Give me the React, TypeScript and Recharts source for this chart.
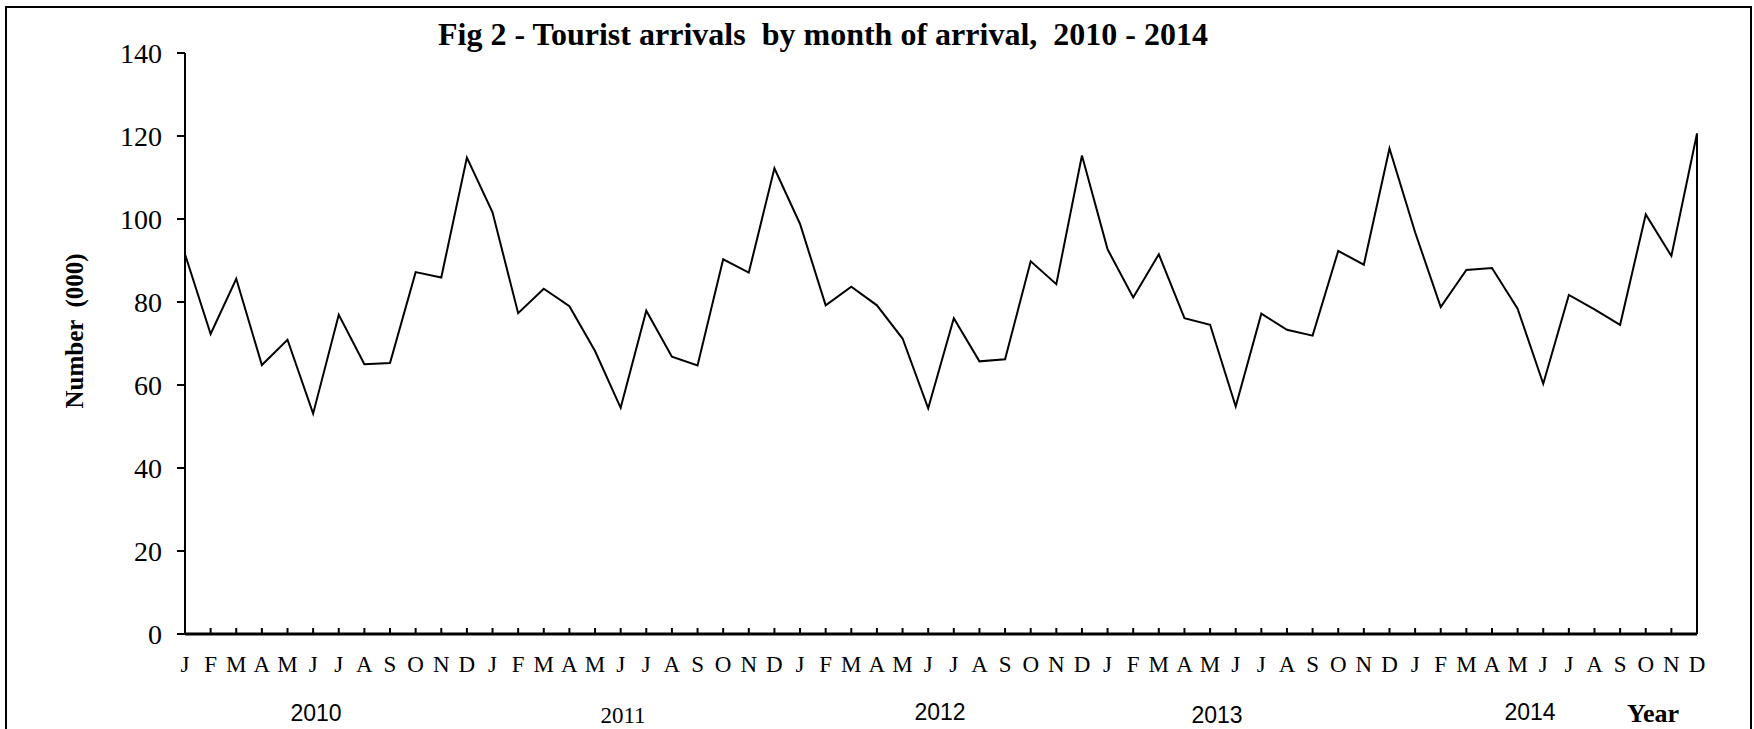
import React from 'react';
import { LineChart, Line, XAxis, YAxis, ReferenceLine } from 'recharts';

const years = ['2010', '2011', '2012', '2013', '2014'];
const months = ['J', 'F', 'M', 'A', 'M', 'J', 'J', 'A', 'S', 'O', 'N', 'D'];

// arrivals in thousands
const arrivals2010 = [91.5, 72.3, 85.6, 64.8, 70.9, 53.1, 76.9, 65.0, 65.3, 87.2, 85.9, 114.8];
const arrivals2011 = [101.6, 77.3, 83.2, 79.0, 68.2, 54.5, 77.9, 66.8, 64.7, 90.3, 87.1, 112.2];
const arrivals2012 = [98.8, 79.2, 83.7, 79.2, 71.2, 54.4, 76.1, 65.7, 66.2, 89.8, 84.3, 115.3];
const arrivals2013 = [92.7, 81.1, 91.5, 76.1, 74.5, 54.8, 77.2, 73.3, 71.9, 92.3, 89.0, 117.0];
const arrivals2014 = [96.8, 78.8, 87.7, 88.2, 78.4, 60.3, 81.7, 78.2, 74.5, 101.1, 91.1, 120.6];

const yTicks = [0, 20, 40, 60, 80, 100, 120, 140];

const byYear = [arrivals2010, arrivals2011, arrivals2012, arrivals2013, arrivals2014];

const data = byYear.flatMap((vals, yi) =>
  vals.map((v, mi) => ({ id: `${years[yi]}-${mi}`, month: months[mi], value: v }))
);
const last = data[data.length - 1];

const SERIF = '"Liberation Serif", "Times New Roman", serif';
const SANS = '"Liberation Sans", Arial, sans-serif';

const MonthTick = (props: any) => {
  const { x, y, payload } = props;
  const mi = Number(String(payload.value).split('-')[1]);
  return (
    <g>
      <line x1={x} x2={x} y1={y} y2={y - 6} stroke="#000" strokeWidth={2} />
      <text x={x} y={y + 38} textAnchor="middle" fontFamily={SERIF} fontSize={23} fill="#000">
        {months[mi]}
      </text>
    </g>
  );
};

export default function App() {
  return (
    <div style={{ position: 'absolute', left: 0, top: 0, width: 1754, height: 729, overflow: 'hidden', background: '#fff' }}>
      <div style={{ position: 'absolute', left: 5, top: 6, width: 1743, height: 800, border: '2px solid #000' }} />
      <div style={{ position: 'absolute', left: 0, top: 0 }}>
        <LineChart width={1754} height={729} data={data} margin={{ top: 53, right: 57, left: 125, bottom: 55 }}>
          <XAxis
            dataKey="id"
            interval={0}
            height={40}
            tickSize={0}
            tickMargin={0}
            tickLine={false}
            axisLine={{ stroke: '#000', strokeWidth: 3 }}
            tick={MonthTick}
          />
          <YAxis
            width={60}
            domain={[0, 140]}
            ticks={yTicks}
            interval={0}
            tickSize={8}
            tickMargin={15}
            axisLine={{ stroke: '#000', strokeWidth: 2 }}
            tickLine={{ stroke: '#000', strokeWidth: 2 }}
            tick={{ fill: '#000', fontSize: 28, fontFamily: SERIF }}
          />
          <ReferenceLine
            segment={[{ x: last.id, y: 0 }, { x: last.id, y: last.value }]}
            stroke="#000"
            strokeWidth={2}
          />
          <Line
            type="linear"
            dataKey="value"
            stroke="#000"
            strokeWidth={2}
            dot={false}
            isAnimationActive={false}
          />
        </LineChart>
      </div>
      <svg width={1754} height={729} style={{ position: 'absolute', left: 0, top: 0, pointerEvents: 'none' }}>
        <text
          x={438}
          y={45}
          fontFamily={SERIF}
          fontWeight="bold"
          fontSize={31}
          textLength={770}
          lengthAdjust="spacingAndGlyphs"
          fill="#000"
          style={{ whiteSpace: 'pre' }}
        >
          {'Fig 2 - Tourist arrivals  by month of arrival,  2010 - 2014'}
        </text>
        <text
          x={0}
          y={0}
          transform="translate(83,331) rotate(-90)"
          textAnchor="middle"
          fontFamily={SERIF}
          fontWeight="bold"
          fontSize={25}
          fill="#000"
          style={{ whiteSpace: 'pre' }}
        >
          {'Number  (000)'}
        </text>
        <text x={316} y={721} textAnchor="middle" fontFamily={SANS} fontSize={23} fill="#000">{years[0]}</text>
        <text x={623} y={723} textAnchor="middle" fontFamily={SERIF} fontSize={23} fill="#000">{years[1]}</text>
        <text x={940} y={720} textAnchor="middle" fontFamily={SANS} fontSize={23} fill="#000">{years[2]}</text>
        <text x={1217} y={723} textAnchor="middle" fontFamily={SANS} fontSize={23} fill="#000">{years[3]}</text>
        <text x={1530} y={720} textAnchor="middle" fontFamily={SANS} fontSize={23} fill="#000">{years[4]}</text>
        <text x={1653} y={722} textAnchor="middle" fontFamily={SERIF} fontWeight="bold" fontSize={26} fill="#000">Year</text>
      </svg>
    </div>
  );
}
